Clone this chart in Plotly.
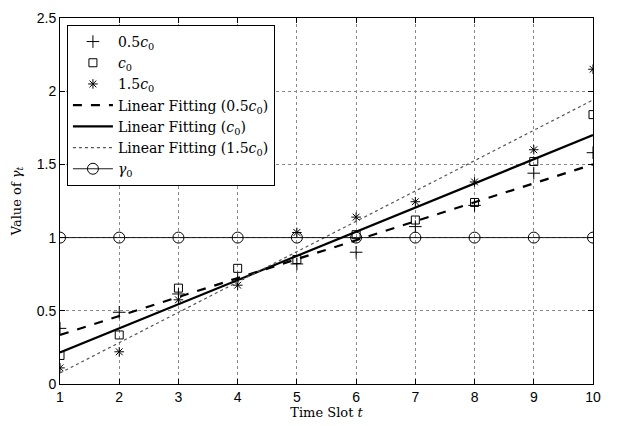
import plotly.graph_objects as go

t = [1, 2, 3, 4, 5, 6, 7, 8, 9, 10]
half_c0 = [0.38, 0.49, 0.615, 0.715, 0.82, 0.90, 1.075, 1.22, 1.44, 1.58]
c0 = [0.195, 0.335, 0.655, 0.79, 0.85, 1.02, 1.12, 1.24, 1.52, 1.84]
onehalf_c0 = [0.11, 0.22, 0.575, 0.675, 1.035, 1.14, 1.245, 1.38, 1.60, 2.15]
fit_x = [1, 10]
fit_half = [0.335, 1.50]
fit_c0 = [0.215, 1.70]
fit_onehalf = [0.075, 1.94]
gamma0 = [1, 1, 1, 1, 1, 1, 1, 1, 1, 1]
y_ticks = [0, 0.5, 1, 1.5, 2, 2.5]
y_ticktext = ["0", "0.5", "1", "1.5", "2", "2.5"]

SERIF = "DejaVu Serif, serif"
SANS = "Liberation Sans, Arial, sans-serif"

fig = go.Figure()
fig.add_trace(go.Scatter(x=t, y=half_c0, mode="markers", name="0.5<i>c</i><sub>0</sub>",
                         marker=dict(symbol="cross-thin", size=9, color="black", line=dict(width=1, color="black"))))
fig.add_trace(go.Scatter(x=t, y=c0, mode="markers", name="<i>c</i><sub>0</sub>",
                         marker=dict(symbol="square-open", size=8, color="black", line=dict(width=1, color="black"))))
fig.add_trace(go.Scatter(x=t, y=onehalf_c0, mode="markers", name="1.5<i>c</i><sub>0</sub>",
                         marker=dict(symbol="asterisk", size=8, color="black", line=dict(width=1, color="black"))))
fig.add_trace(go.Scatter(x=fit_x, y=fit_half, mode="lines", name="Linear Fitting (0.5<i>c</i><sub>0</sub>)",
                         line=dict(color="black", width=2.2, dash="dash")))
fig.add_trace(go.Scatter(x=fit_x, y=fit_c0, mode="lines", name="Linear Fitting (<i>c</i><sub>0</sub>)",
                         line=dict(color="black", width=2.2)))
fig.add_trace(go.Scatter(x=fit_x, y=fit_onehalf, mode="lines", name="Linear Fitting (1.5<i>c</i><sub>0</sub>)",
                         line=dict(color="#555555", width=1.2, dash="dot")))
fig.add_trace(go.Scatter(x=t, y=gamma0, mode="lines+markers", name="<i>γ</i><sub>0</sub>",
                         line=dict(color="black", width=0.9),
                         marker=dict(symbol="circle-open", size=11, color="black", line=dict(width=1, color="black"))))

axis_common = dict(
    showline=True, linecolor="black", linewidth=1, mirror="ticks",
    ticks="inside", ticklen=5, tickcolor="black",
    showgrid=True, gridcolor="#8a8a8a", griddash="dot", gridwidth=1,
    zeroline=False,
    tickfont=dict(family=SANS, size=14, color="black"),
)

fig.update_layout(
    width=617, height=426,
    margin=dict(l=60, r=24, t=10, b=42),
    paper_bgcolor="white", plot_bgcolor="white",
    xaxis=dict(range=[1, 10], tickvals=t, **axis_common,
               title=dict(text="Time Slot <i>t</i>", standoff=2,
                          font=dict(family=SERIF, size=13, color="black"))),
    yaxis=dict(range=[0, 2.5], tickvals=y_ticks, ticktext=y_ticktext,
               **axis_common,
               title=dict(text="Value of <i>γ</i><sub><i>t</i></sub>", standoff=12,
                          font=dict(family=SERIF, size=13, color="black"))),
    legend=dict(x=0.013, y=0.981, xanchor="left", yanchor="top",
                bgcolor="white", bordercolor="black", borderwidth=1,
                font=dict(family=SERIF, size=14, color="black"),
                tracegroupgap=0, itemwidth=40),
    showlegend=True,
)

fig.write_html("out.html", config={"displayModeBar": False},
               post_script="document.body.style.margin='0';")
